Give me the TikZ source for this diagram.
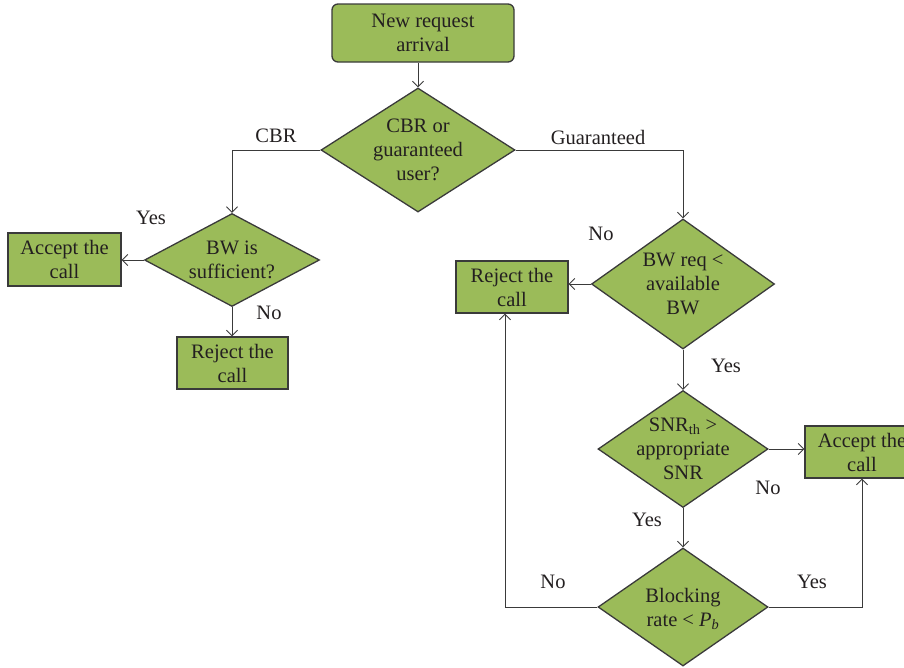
\documentclass[tikz,border=0pt]{standalone}
\usepackage{fontspec}
\setmainfont{Liberation Serif}
\usetikzlibrary{shapes.geometric,arrows.meta}
\definecolor{boxgreen}{HTML}{9BBB59}
\definecolor{edgegray}{HTML}{3A3A3A}
\definecolor{txt}{HTML}{231F20}
\tikzset{
  box/.style={draw=edgegray, line width=1.3pt, fill=boxgreen, inner sep=0pt, align=center, text=txt},
  dia/.style={diamond, draw=edgegray, line width=1.3pt, fill=boxgreen, inner sep=0pt, aspect=1.5},
  dtext/.style={align=center, text=txt, inner sep=0pt},
  conn/.style={draw=edgegray, line width=0.9pt, -{Straight Barb[length=5.5pt,width=11pt]}},
  lbl/.style={text=txt, inner sep=0pt},
}
\begin{document}
\begin{tikzpicture}[x=1pt,y=-1pt,font=\fontsize{20.5}{24}\selectfont]
\useasboundingbox (0,0) rectangle (904,667);
\clip (0,0) rectangle (904,667);
% boxes
\node[box, rounded corners=6pt, minimum width=182pt, minimum height=58pt] (top) at (423,33) {New request\\arrival};
\node[box, minimum width=113pt, minimum height=53pt] (accl) at (64.5,259.5) {Accept the\\call};
\node[box, minimum width=111pt, minimum height=52pt] (rejl) at (232.5,363) {Reject the\\call};
\node[box, minimum width=112pt, minimum height=52pt] (rejr) at (512,287) {Reject the\\call};
\node[box, minimum width=114pt, minimum height=52pt] (accr) at (862,452) {Accept the\\call};
% diamonds
\node[dia, minimum width=194pt, minimum height=124pt] (d1) at (418,150) {};
\node[dtext] (t1) at (d1.center) {CBR or\\guaranteed\\user?};
\node[dia, minimum width=175pt, minimum height=93pt] (d2) at (232,260) {};
\node[dtext] (t2) at (d2.center) {BW is\\sufficient?};
\node[dia, minimum width=183pt, minimum height=130pt] (d3) at (683,284) {};
\node[dtext] (t3) at (d3.center) {BW req <\\available\\BW};
\node[dia, minimum width=170pt, minimum height=117pt] (d4) at (683,449) {};
\node[dtext] (t4) at (d4.center) {SNR\textsubscript{th} >\\appropriate\\SNR};
\node[dia, minimum width=170pt, minimum height=118pt] (d5) at (683,607) {};
\node[dtext] (t5) at ([yshift=-2pt]d5.center) {Blocking\\rate < \textit{P}\textsubscript{\textit{b}}};
% connectors
\draw[conn] (d1.north |- top.south) -- (d1.north);
\draw[conn] (d1.west) -| (d2.north);
\draw[conn] (d1.east) -| (d3.north);
\draw[conn] (d2.west) -- (d2.west -| accl.east);
\draw[conn] (d2.south) -- (d2.south |- rejl.north);
\draw[conn] (d3.west) -- (d3.west -| rejr.east);
\draw[conn] (d3.south) -- (d4.north);
\draw[conn] (d4.east) -- (d4.east -| accr.west);
\draw[conn] (d4.south) -- (d5.north);
\coordinate (rjb) at ([xshift=-7pt]rejr.south);
\draw[conn] (d5.west) -| (rjb);
\draw[conn] (d5.east) -| (accr.south);
% labels
\node[lbl] (lcbr) at (276,136) {CBR};
\node[lbl] (lgua) at (598,137) {Guaranteed};
\node[lbl] (ly1) at (151,218) {Yes};
\node[lbl] (ln1) at (269,313) {No};
\node[lbl] (ln2) at (601,234) {No};
\node[lbl] (ly2) at (726,366) {Yes};
\node[lbl] (ln3) at (768,488) {No};
\node[lbl] (ly3) at (647,520) {Yes};
\node[lbl] (ln4) at (553,582) {No};
\node[lbl] (ly4) at (812,582) {Yes};
\end{tikzpicture}
\end{document}
